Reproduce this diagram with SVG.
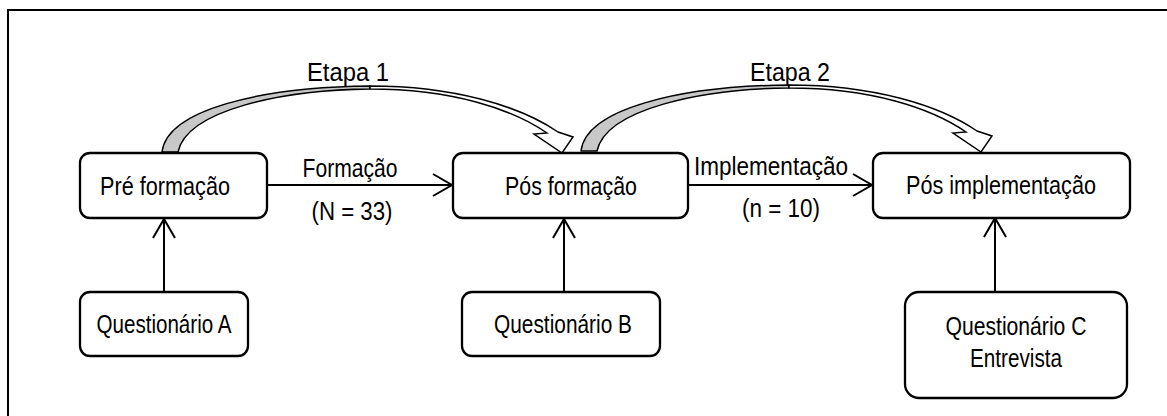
<svg xmlns="http://www.w3.org/2000/svg" width="1167" height="416" viewBox="0 0 1167 416">
<style>
.box{fill:#fff;stroke:#000;stroke-width:2.3}
.t{font-family:"Liberation Sans",Arial,sans-serif;font-size:25px;fill:#000;text-anchor:middle}
.ln{fill:none;stroke:#000;stroke-width:2}
.gray{fill:#c8c8c8;stroke:#000;stroke-width:1.5;stroke-linejoin:round}
.white{fill:#fff;stroke:#000;stroke-width:1.5;stroke-linejoin:miter}
</style>
<defs>
<marker id="ah" markerUnits="userSpaceOnUse" markerWidth="22" markerHeight="26" refX="20" refY="12" orient="auto" viewBox="0 0 22 26">
<path d="M1,1 L20,12 L1,23" fill="none" stroke="#000" stroke-width="2"/>
</marker>
<g id="curve">
<path class="gray" d="M0,0 C5,-42 98,-65 208,-66 L208,-63 C120,-62 25,-42 16,0 Z"/>
<path class="white" d="M208,-66 C292,-66 358,-46 396,-20 L411,-15 L400,1 L372,-18 L385,-19 C350,-43 290,-63 208,-63 Z"/>
</g>
</defs>
<rect x="8" y="10" width="1170" height="420" fill="none" stroke="#000" stroke-width="2"/>
<g id="connectors">
<line class="ln" x1="267" y1="185" x2="452" y2="185" marker-end="url(#ah)"/>
<line class="ln" x1="688" y1="185" x2="872" y2="185" marker-end="url(#ah)"/>
<line class="ln" x1="164" y1="292" x2="164" y2="219" marker-end="url(#ah)"/>
<line class="ln" x1="564" y1="292" x2="564" y2="219" marker-end="url(#ah)"/>
<line class="ln" x1="995" y1="292" x2="995" y2="218" marker-end="url(#ah)"/>
<use href="#curve" transform="translate(162,152)"/>
<use href="#curve" transform="translate(581,151)"/>
<text class="t" x="350" y="177" textLength="95" lengthAdjust="spacingAndGlyphs">Formação</text>
<text class="t" x="352" y="220" textLength="81" lengthAdjust="spacingAndGlyphs">(N = 33)</text>
<text class="t" x="771" y="175" textLength="154" lengthAdjust="spacingAndGlyphs">Implementação</text>
<text class="t" x="781" y="217" textLength="78" lengthAdjust="spacingAndGlyphs">(n = 10)</text>
<text class="t" x="348" y="81" textLength="82" lengthAdjust="spacingAndGlyphs">Etapa 1</text>
<text class="t" x="790" y="81" textLength="80" lengthAdjust="spacingAndGlyphs">Etapa 2</text>
</g>
<g id="pre"><rect class="box" x="80" y="153" width="187" height="65" rx="10"/><text class="t" x="165" y="195" textLength="130" lengthAdjust="spacingAndGlyphs">Pré formação</text></g>
<g id="posf"><rect class="box" x="453" y="153" width="235" height="65" rx="10"/><text class="t" x="571" y="195" textLength="132" lengthAdjust="spacingAndGlyphs">Pós formação</text></g>
<g id="posi"><rect class="box" x="873" y="153" width="257" height="65" rx="10"/><text class="t" x="1001" y="194" textLength="190" lengthAdjust="spacingAndGlyphs">Pós implementação</text></g>
<g id="qa"><rect class="box" x="80" y="292" width="168" height="64" rx="10"/><text class="t" x="164" y="333" textLength="135" lengthAdjust="spacingAndGlyphs">Questionário A</text></g>
<g id="qb"><rect class="box" x="462" y="292" width="198" height="64" rx="10"/><text class="t" x="563" y="333" textLength="138" lengthAdjust="spacingAndGlyphs">Questionário B</text></g>
<g id="qc"><rect class="box" x="905" y="292" width="222" height="106" rx="14"/><text class="t" x="1016" y="335" textLength="141" lengthAdjust="spacingAndGlyphs">Questionário C</text><text class="t" x="1016" y="367" textLength="92" lengthAdjust="spacingAndGlyphs">Entrevista</text></g>
</svg>
